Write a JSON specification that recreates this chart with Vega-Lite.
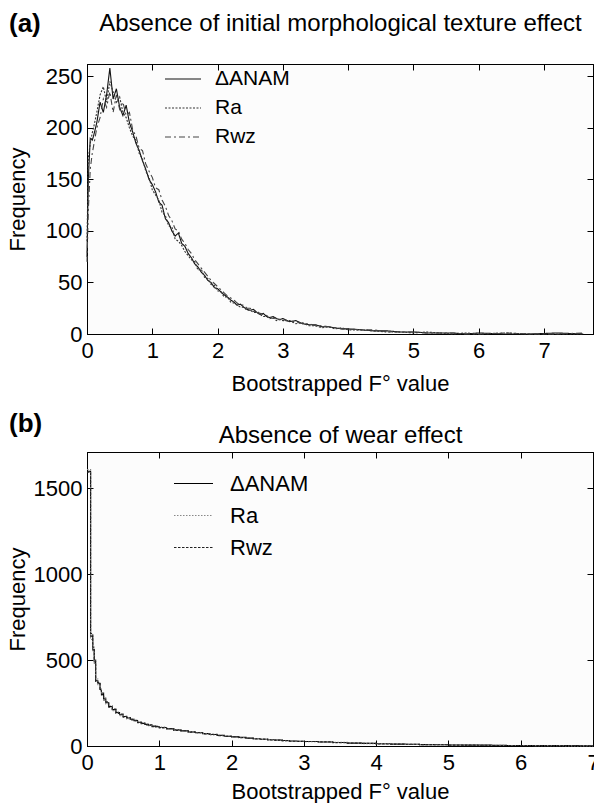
{
  "$schema": "https://vega.github.io/schema/vega-lite/v6.json",
  "background": "white",
  "padding": {"left": 5, "top": 10, "right": 0, "bottom": 0},
  "spacing": 15,
  "resolve": {"scale": {"color": "independent", "strokeDash": "independent"}, "legend": {"color": "independent", "strokeDash": "independent"}},
  "config": {
    "font": "Liberation Sans",
    "view": {"stroke": "black", "strokeWidth": 1, "fill": "#fcfcfc"},
    "axis": {
      "grid": false, "domainColor": "black", "tickColor": "black", "labelColor": "black", "titleColor": "black",
      "labelFont": "Liberation Sans", "titleFont": "Liberation Sans",
      "labelFontSize": 22, "titleFontSize": 22, "titleFontWeight": "normal",
      "tickSize": -6, "labelFlush": false, "labelOverlap": false, "format": "d"
    },
    "axisBottom": {"labelPadding": 12},
    "axisLeft": {"labelPadding": 11},
    "title": {"font": "Liberation Sans", "fontSize": 26, "fontWeight": "bold", "anchor": "start", "frame": "bounds", "color": "black", "offset": 0, "baseline": "bottom"},
    "legend": {"orient": "none", "title": null, "symbolType": "stroke", "symbolStrokeWidth": 1.2, "labelFontSize": 22, "labelColor": "black", "padding": 0, "labelFont": "Liberation Sans"}
  },
  "vconcat": [
    {
      "width": 506,
      "height": 270,
      "title": {"text": "(a)", "dy": 30, "dx": 3},
      "data": {"values": [
        {"F":0,"ΔANAM":75,"Ra":90,"Rwz":70},
        {"F":0.02,"ΔANAM":150,"Ra":170,"Rwz":120},
        {"F":0.05,"ΔANAM":190,"Ra":185,"Rwz":160},
        {"F":0.08,"ΔANAM":188,"Ra":195,"Rwz":175},
        {"F":0.1,"ΔANAM":192,"Ra":200,"Rwz":182},
        {"F":0.15,"ΔANAM":205,"Ra":215,"Rwz":200},
        {"F":0.2,"ΔANAM":225,"Ra":232,"Rwz":210},
        {"F":0.25,"ΔANAM":215,"Ra":240,"Rwz":228},
        {"F":0.3,"ΔANAM":232,"Ra":225,"Rwz":220},
        {"F":0.35,"ΔANAM":258,"Ra":245,"Rwz":235},
        {"F":0.4,"ΔANAM":228,"Ra":235,"Rwz":215},
        {"F":0.45,"ΔANAM":238,"Ra":225,"Rwz":232},
        {"F":0.5,"ΔANAM":220,"Ra":230,"Rwz":218},
        {"F":0.55,"ΔANAM":212,"Ra":215,"Rwz":225},
        {"F":0.6,"ΔANAM":222,"Ra":210,"Rwz":212},
        {"F":0.65,"ΔANAM":205,"Ra":200,"Rwz":215},
        {"F":0.7,"ΔANAM":196,"Ra":192,"Rwz":198},
        {"F":0.75,"ΔANAM":185,"Ra":188,"Rwz":192},
        {"F":0.8,"ΔANAM":178,"Ra":175,"Rwz":180},
        {"F":0.85,"ΔANAM":168,"Ra":170,"Rwz":178},
        {"F":0.9,"ΔANAM":160,"Ra":158,"Rwz":165},
        {"F":0.95,"ΔANAM":150,"Ra":152,"Rwz":158},
        {"F":1,"ΔANAM":145,"Ra":140,"Rwz":152},
        {"F":1.05,"ΔANAM":138,"Ra":135,"Rwz":142},
        {"F":1.1,"ΔANAM":128,"Ra":130,"Rwz":140},
        {"F":1.15,"ΔANAM":125,"Ra":118,"Rwz":130},
        {"F":1.2,"ΔANAM":112,"Ra":115,"Rwz":124},
        {"F":1.25,"ΔANAM":108,"Ra":105,"Rwz":115},
        {"F":1.3,"ΔANAM":100,"Ra":104,"Rwz":110},
        {"F":1.35,"ΔANAM":95,"Ra":92,"Rwz":102},
        {"F":1.4,"ΔANAM":98,"Ra":90,"Rwz":100},
        {"F":1.45,"ΔANAM":88,"Ra":86,"Rwz":92},
        {"F":1.5,"ΔANAM":85,"Ra":80,"Rwz":88},
        {"F":1.55,"ΔANAM":78,"Ra":76,"Rwz":82},
        {"F":1.6,"ΔANAM":74,"Ra":72,"Rwz":78},
        {"F":1.65,"ΔANAM":68,"Ra":70,"Rwz":72},
        {"F":1.7,"ΔANAM":65,"Ra":62,"Rwz":68},
        {"F":1.75,"ΔANAM":60,"Ra":63,"Rwz":64},
        {"F":1.8,"ΔANAM":57,"Ra":55,"Rwz":60},
        {"F":1.85,"ΔANAM":52,"Ra":54,"Rwz":56},
        {"F":1.9,"ΔANAM":50,"Ra":48,"Rwz":52},
        {"F":1.95,"ΔANAM":45,"Ra":47,"Rwz":49},
        {"F":2,"ΔANAM":44,"Ra":42,"Rwz":46},
        {"F":2.05,"ΔANAM":41,"Ra":41,"Rwz":43},
        {"F":2.1,"ΔANAM":38,"Ra":36,"Rwz":40},
        {"F":2.15,"ΔANAM":36,"Ra":36,"Rwz":37},
        {"F":2.2,"ΔANAM":33,"Ra":31,"Rwz":35},
        {"F":2.25,"ΔANAM":31,"Ra":30,"Rwz":33},
        {"F":2.3,"ΔANAM":28,"Ra":28,"Rwz":30},
        {"F":2.35,"ΔANAM":29,"Ra":26,"Rwz":28},
        {"F":2.4,"ΔANAM":26,"Ra":26,"Rwz":28},
        {"F":2.45,"ΔANAM":24,"Ra":23,"Rwz":25},
        {"F":2.5,"ΔANAM":23,"Ra":23,"Rwz":25},
        {"F":2.55,"ΔANAM":24,"Ra":21,"Rwz":22},
        {"F":2.6,"ΔANAM":21,"Ra":21,"Rwz":22},
        {"F":2.65,"ΔANAM":19,"Ra":19,"Rwz":20},
        {"F":2.7,"ΔANAM":20,"Ra":17,"Rwz":19},
        {"F":2.75,"ΔANAM":17,"Ra":17,"Rwz":18},
        {"F":2.8,"ΔANAM":16,"Ra":15,"Rwz":16},
        {"F":2.85,"ΔANAM":17,"Ra":16,"Rwz":15},
        {"F":2.9,"ΔANAM":15,"Ra":13,"Rwz":16},
        {"F":2.95,"ΔANAM":14,"Ra":14,"Rwz":14},
        {"F":3,"ΔANAM":15,"Ra":13,"Rwz":14},
        {"F":3.1,"ΔANAM":12,"Ra":13,"Rwz":12},
        {"F":3.2,"ΔANAM":13,"Ra":10,"Rwz":12},
        {"F":3.3,"ΔANAM":10,"Ra":11,"Rwz":10},
        {"F":3.4,"ΔANAM":9,"Ra":8,"Rwz":10},
        {"F":3.5,"ΔANAM":9,"Ra":8,"Rwz":8},
        {"F":3.6,"ΔANAM":7,"Ra":6,"Rwz":8},
        {"F":3.7,"ΔANAM":7,"Ra":7,"Rwz":7},
        {"F":3.8,"ΔANAM":6,"Ra":5,"Rwz":6},
        {"F":3.9,"ΔANAM":5,"Ra":6,"Rwz":5},
        {"F":4,"ΔANAM":5,"Ra":4,"Rwz":5},
        {"F":4.2,"ΔANAM":4,"Ra":4,"Rwz":4},
        {"F":4.4,"ΔANAM":3,"Ra":3,"Rwz":4},
        {"F":4.6,"ΔANAM":3,"Ra":2,"Rwz":2},
        {"F":4.8,"ΔANAM":2,"Ra":2,"Rwz":2},
        {"F":5,"ΔANAM":2,"Ra":1,"Rwz":2},
        {"F":5.2,"ΔANAM":1,"Ra":2,"Rwz":1},
        {"F":5.4,"ΔANAM":1,"Ra":1,"Rwz":1},
        {"F":5.6,"ΔANAM":1,"Ra":0,"Rwz":1},
        {"F":5.8,"ΔANAM":0,"Ra":1,"Rwz":0},
        {"F":6,"ΔANAM":1,"Ra":0,"Rwz":0},
        {"F":6.4,"ΔANAM":0,"Ra":1,"Rwz":1},
        {"F":6.8,"ΔANAM":0,"Ra":0,"Rwz":0},
        {"F":7.2,"ΔANAM":1,"Ra":0,"Rwz":0},
        {"F":7.6,"ΔANAM":0,"Ra":0,"Rwz":1}
      ]},
      "transform": [{"fold": ["ΔANAM", "Ra", "Rwz"], "as": ["series", "freq"]}],
      "layer": [
        {
          "mark": {"type": "line", "strokeWidth": 1.1},
          "encoding": {
            "x": {"field": "F", "type": "quantitative", "scale": {"domain": [0, 7.75], "nice": false, "zero": false},
                  "axis": {"values": [0,1,2,3,4,5,6,7], "title": "Bootstrapped F° value", "titleY": 49, "titleBaseline": "middle"}},
            "y": {"field": "freq", "type": "quantitative", "scale": {"domain": [0, 262], "nice": false},
                  "axis": {"values": [0,50,100,150,200,250], "title": "Frequency", "titleX": -70, "titleBaseline": "middle"}},
            "strokeDash": {"field": "series", "type": "nominal",
                  "scale": {"domain": ["ΔANAM", "Ra", "Rwz"], "range": [[1,0],[2,1.5],[6,3,2,3]]},
                  "legend": {"legendX": 77, "legendY": -4, "symbolSize": 1296, "labelOffset": 13, "rowPadding": -7, "labelFontSize": 21}},
            "color": {"field": "series", "type": "nominal",
                  "scale": {"domain": ["ΔANAM", "Ra", "Rwz"], "range": ["#111111", "#333333", "#444444"]},
                  "legend": {"legendX": 77, "legendY": -4, "symbolSize": 1296, "labelOffset": 13, "rowPadding": -7, "labelFontSize": 21}}
          }
        },
        {
          "mark": {"type": "point", "opacity": 0},
          "encoding": {
            "x": {"field": "F", "type": "quantitative", "scale": {"domain": [0, 7.75], "nice": false, "zero": false},
                  "axis": {"orient": "top", "values": [0,1,2,3,4,5,6,7], "labels": false, "title": "Absence of initial morphological texture effect", "titleFontSize": 24, "titleY": -41, "titleBaseline": "middle"}},
            "y": {"field": "freq", "type": "quantitative", "scale": {"domain": [0, 262], "nice": false},
                  "axis": {"orient": "right", "values": [0,50,100,150,200,250], "labels": false, "title": null}}
          }
        }
      ],
      "resolve": {"axis": {"x": "independent", "y": "independent"}}
    },
    {
      "width": 506,
      "height": 294,
      "title": {"text": "(b)", "dy": 18, "dx": 3},
      "data": {"values": [
        {"F":0,"ΔANAM":1600,"Ra":1610,"Rwz":1595},
        {"F":0.05,"ΔANAM":640,"Ra":620,"Rwz":655},
        {"F":0.08,"ΔANAM":560,"Ra":545,"Rwz":575},
        {"F":0.1,"ΔANAM":490,"Ra":480,"Rwz":505},
        {"F":0.12,"ΔANAM":380,"Ra":390,"Rwz":372},
        {"F":0.15,"ΔANAM":365,"Ra":352,"Rwz":370},
        {"F":0.18,"ΔANAM":330,"Ra":338,"Rwz":322},
        {"F":0.2,"ΔANAM":300,"Ra":295,"Rwz":308},
        {"F":0.23,"ΔANAM":275,"Ra":280,"Rwz":268},
        {"F":0.26,"ΔANAM":252,"Ra":245,"Rwz":258},
        {"F":0.3,"ΔANAM":230,"Ra":236,"Rwz":226},
        {"F":0.35,"ΔANAM":212,"Ra":205,"Rwz":215},
        {"F":0.4,"ΔANAM":195,"Ra":198,"Rwz":190},
        {"F":0.45,"ΔANAM":182,"Ra":176,"Rwz":186},
        {"F":0.5,"ΔANAM":172,"Ra":175,"Rwz":168},
        {"F":0.55,"ΔANAM":163,"Ra":158,"Rwz":165},
        {"F":0.6,"ΔANAM":156,"Ra":160,"Rwz":152},
        {"F":0.65,"ΔANAM":148,"Ra":145,"Rwz":150},
        {"F":0.7,"ΔANAM":138,"Ra":142,"Rwz":136},
        {"F":0.75,"ΔANAM":132,"Ra":128,"Rwz":134},
        {"F":0.8,"ΔANAM":126,"Ra":128,"Rwz":122},
        {"F":0.85,"ΔANAM":121,"Ra":118,"Rwz":124},
        {"F":0.9,"ΔANAM":116,"Ra":119,"Rwz":113},
        {"F":0.95,"ΔANAM":112,"Ra":108,"Rwz":114},
        {"F":1,"ΔANAM":108,"Ra":110,"Rwz":105},
        {"F":1.1,"ΔANAM":100,"Ra":97,"Rwz":102},
        {"F":1.2,"ΔANAM":94,"Ra":96,"Rwz":91},
        {"F":1.3,"ΔANAM":88,"Ra":85,"Rwz":89},
        {"F":1.4,"ΔANAM":82,"Ra":84,"Rwz":80},
        {"F":1.5,"ΔANAM":77,"Ra":75,"Rwz":79},
        {"F":1.6,"ΔANAM":72,"Ra":73,"Rwz":70},
        {"F":1.7,"ΔANAM":67,"Ra":65,"Rwz":68},
        {"F":1.8,"ΔANAM":62,"Ra":63,"Rwz":60},
        {"F":1.9,"ΔANAM":57,"Ra":58,"Rwz":56},
        {"F":2,"ΔANAM":53,"Ra":51,"Rwz":54},
        {"F":2.1,"ΔANAM":50,"Ra":49,"Rwz":48},
        {"F":2.2,"ΔANAM":46,"Ra":47,"Rwz":45},
        {"F":2.3,"ΔANAM":42,"Ra":43,"Rwz":41},
        {"F":2.4,"ΔANAM":39,"Ra":38,"Rwz":40},
        {"F":2.5,"ΔANAM":36,"Ra":37,"Rwz":35},
        {"F":2.6,"ΔANAM":34,"Ra":33,"Rwz":34},
        {"F":2.7,"ΔANAM":32,"Ra":30,"Rwz":31},
        {"F":2.8,"ΔANAM":29,"Ra":30,"Rwz":28},
        {"F":2.9,"ΔANAM":27,"Ra":26,"Rwz":28},
        {"F":3,"ΔANAM":26,"Ra":25,"Rwz":26},
        {"F":3.2,"ΔANAM":23,"Ra":22,"Rwz":24},
        {"F":3.4,"ΔANAM":20,"Ra":21,"Rwz":19},
        {"F":3.6,"ΔANAM":17,"Ra":18,"Rwz":17},
        {"F":3.8,"ΔANAM":15,"Ra":14,"Rwz":16},
        {"F":4,"ΔANAM":13,"Ra":14,"Rwz":12},
        {"F":4.2,"ΔANAM":11,"Ra":12,"Rwz":11},
        {"F":4.4,"ΔANAM":10,"Ra":9,"Rwz":10},
        {"F":4.6,"ΔANAM":8,"Ra":9,"Rwz":8},
        {"F":4.8,"ΔANAM":7,"Ra":7,"Rwz":7},
        {"F":5,"ΔANAM":6,"Ra":6,"Rwz":5},
        {"F":5.2,"ΔANAM":5,"Ra":5,"Rwz":5},
        {"F":5.4,"ΔANAM":5,"Ra":4,"Rwz":4},
        {"F":5.6,"ΔANAM":4,"Ra":4,"Rwz":3},
        {"F":5.8,"ΔANAM":3,"Ra":3,"Rwz":3},
        {"F":6,"ΔANAM":3,"Ra":3,"Rwz":2},
        {"F":6.2,"ΔANAM":2,"Ra":2,"Rwz":2},
        {"F":6.4,"ΔANAM":2,"Ra":2,"Rwz":2},
        {"F":6.6,"ΔANAM":2,"Ra":1,"Rwz":2},
        {"F":6.8,"ΔANAM":1,"Ra":1,"Rwz":1},
        {"F":7,"ΔANAM":1,"Ra":1,"Rwz":1}
      ]},
      "transform": [{"fold": ["ΔANAM", "Ra", "Rwz"], "as": ["series", "freq"]}],
      "layer": [
        {
          "mark": {"type": "line", "strokeWidth": 1.1, "interpolate": "step-after"},
          "encoding": {
            "x": {"field": "F", "type": "quantitative", "scale": {"domain": [0, 7], "nice": false, "zero": false},
                  "axis": {"values": [0,1,2,3,4,5,6,7], "title": "Bootstrapped F° value", "titleY": 45, "titleBaseline": "middle"}},
            "y": {"field": "freq", "type": "quantitative", "scale": {"domain": [0, 1712], "nice": false},
                  "axis": {"values": [0,500,1000,1500], "title": "Frequency", "titleX": -70, "titleBaseline": "middle"}},
            "strokeDash": {"field": "series", "type": "nominal",
                  "scale": {"domain": ["ΔANAM", "Ra", "Rwz"], "range": [[1,0],[1.5,1.5],[2.5,1.5]]},
                  "legend": {"legendX": 86, "legendY": 11, "symbolSize": 1521, "labelOffset": 16, "rowPadding": 0}},
            "color": {"field": "series", "type": "nominal",
                  "scale": {"domain": ["ΔANAM", "Ra", "Rwz"], "range": ["#000000", "#888888", "#222222"]},
                  "legend": {"legendX": 86, "legendY": 11, "symbolSize": 1521, "labelOffset": 16, "rowPadding": 0}}
          }
        },
        {
          "mark": {"type": "point", "opacity": 0},
          "encoding": {
            "x": {"field": "F", "type": "quantitative", "scale": {"domain": [0, 7], "nice": false, "zero": false},
                  "axis": {"orient": "top", "values": [0,1,2,3,4,5,6,7], "labels": false, "title": "Absence of wear effect", "titleFontSize": 24, "titleY": -17, "titleBaseline": "middle"}},
            "y": {"field": "freq", "type": "quantitative", "scale": {"domain": [0, 1712], "nice": false},
                  "axis": {"orient": "right", "values": [0,500,1000,1500], "labels": false, "title": null}}
          }
        }
      ],
      "resolve": {"axis": {"x": "independent", "y": "independent"}}
    }
  ]
}
